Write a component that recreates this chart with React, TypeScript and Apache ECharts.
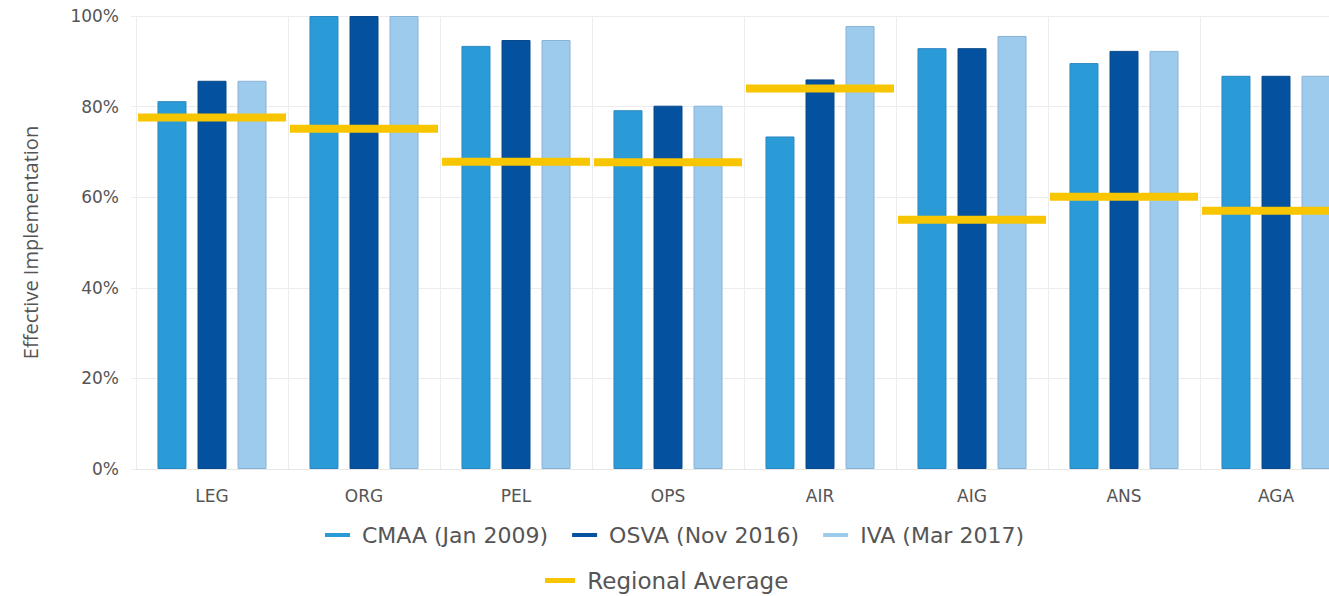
import React, { useEffect, useRef } from "react";
import * as echarts from "echarts";

const categories = ["LEG", "ORG", "PEL", "OPS", "AIR", "AIG", "ANS", "AGA"];
const cmaa = [81.2, 100, 93.4, 79.2, 73.4, 92.9, 89.6, 86.8];
const osva = [85.7, 100, 94.7, 80.2, 86.0, 92.9, 92.3, 86.8];
const iva = [85.7, 100, 94.7, 80.2, 97.8, 95.6, 92.3, 86.8];
const regionalAvg = [77.6, 75.1, 67.8, 67.7, 84.0, 55.0, 60.1, 57.0];
const yTicks = [0, 20, 40, 60, 80, 100];

const FONT = "'Open Sans', 'Noto Sans', sans-serif";
const WIDE = "'DejaVu Sans', 'Open Sans', sans-serif";

export default function App() {
  const ref = useRef<HTMLDivElement>(null);
  useEffect(() => {
    if (!ref.current) return;
    const chart = echarts.init(ref.current, null, { renderer: "svg" });
    const barStyle = (color: string, border: string) => ({
      color,
      borderColor: border,
      borderWidth: 1,
    });
    chart.setOption({
      animation: false,
      textStyle: { fontFamily: FONT },
      grid: {
        left: 136,
        top: 16,
        width: 1216,
        bottom: 127,
        containLabel: false,
        outerBoundsMode: "none",
      },
      legend: [
        {
          data: ["CMAA (Jan 2009)", "OSVA (Nov 2016)", "IVA (Mar 2017)"],
          top: 519,
          left: 320,
          icon: "path://M0 0H25V4H0Z",
          itemWidth: 25,
          itemHeight: 4,
          itemGap: 24,
          itemStyle: { borderWidth: 0 },
          formatter: (n: string) => " " + n,
          textStyle: { fontSize: 22, color: "#555", fontFamily: WIDE },
        },
        {
          data: ["Regional Average"],
          top: 564,
          left: 540,
          icon: "path://M0 0H30V5H0Z",
          itemWidth: 30,
          itemHeight: 5,
          itemStyle: { borderWidth: 0 },
          formatter: (n: string) => " " + n,
          textStyle: { fontSize: 23, color: "#555", fontFamily: WIDE },
        },
      ],
      xAxis: {
        type: "category",
        data: categories,
        axisLine: { show: true, lineStyle: { color: "#e6e6e6" } },
        axisTick: { show: false },
        axisLabel: { color: "#555", fontSize: 17, margin: 18, fontFamily: WIDE },
        splitLine: { show: true, lineStyle: { color: "#ececec" } },
      },
      yAxis: {
        type: "value",
        min: 0,
        max: 100,
        interval: 20,
        name: "Effective Implementation",
        nameLocation: "middle",
        nameGap: 96,
        nameTextStyle: { color: "#555", fontSize: 20, fontFamily: FONT },
        axisLine: { show: false },
        axisTick: { show: true, length: 5, lineStyle: { color: "#ececec" } },
        axisLabel: {
          color: "#555",
          fontSize: 17,
          margin: 17,
          fontFamily: WIDE,
          formatter: (v: number) => (yTicks.includes(v) ? v + "%" : ""),
        },
        splitLine: { show: true, lineStyle: { color: "#ececec" } },
      },
      series: [
        {
          name: "CMAA (Jan 2009)",
          type: "bar",
          data: cmaa,
          barWidth: 29,
          barGap: "38%",
          itemStyle: barStyle("#2b9bd8", "#2a87c0"),
        },
        {
          name: "OSVA (Nov 2016)",
          type: "bar",
          data: osva,
          barWidth: 29,
          barGap: "38%",
          itemStyle: barStyle("#03519f", "#0a4a8a"),
        },
        {
          name: "IVA (Mar 2017)",
          type: "bar",
          data: iva,
          barWidth: 29,
          barGap: "38%",
          itemStyle: barStyle("#9dcbee", "#8ab3d3"),
        },
        {
          name: "Regional Average",
          type: "custom",
          itemStyle: { color: "#f7c600" },
          data: regionalAvg.map((v, i) => [i, v]),
          encode: { x: 0, y: 1 },
          z: 5,
          renderItem: (params: any, api: any) => {
            const p = api.coord([api.value(0), api.value(1)]);
            const w = api.size([1, 0])[0];
            return {
              type: "line",
              shape: { x1: p[0] - w / 2 + 2, x2: p[0] + w / 2 - 2, y1: p[1], y2: p[1] },
              style: { stroke: "#f7c600", lineWidth: 8 },
            };
          },
        },
      ],
    });
    return () => chart.dispose();
  }, []);
  return (
    <div
      ref={ref}
      style={{ position: "fixed", left: 0, top: 0, width: 1329, height: 596, background: "#fff" }}
    />
  );
}
